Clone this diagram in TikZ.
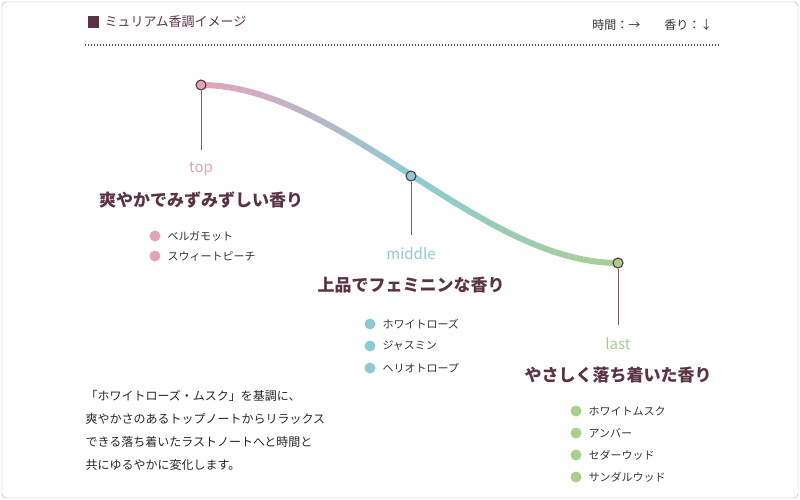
\documentclass[tikz,border=0pt]{standalone}
\usepackage{fontspec}
\newfontfamily\jp{Noto Sans CJK JP}
\usepackage{tikz}
\definecolor{ink}{HTML}{5A3444}
\definecolor{topc}{HTML}{E3A3BA}
\definecolor{midc}{HTML}{8ECAD3}
\definecolor{lastc}{HTML}{A9CF8F}
\tikzset{
  stage/.style={font=\jp\fontsize{15}{15}\selectfont,anchor=center},
  scent/.style={font=\jp\bfseries\fontsize{17}{17}\selectfont,text=ink},
  item/.style={font=\jp\fontsize{11}{11}\selectfont,text=black!80,anchor=west},
  marker/.style={circle,draw=ink,line width=1.1pt,inner sep=0pt,minimum size=10pt}
}
\begin{document}
\begin{tikzpicture}[x=1pt,y=-1pt]
\useasboundingbox (0,0) rectangle (800,500);
\draw[black!35,rounded corners=4pt] (2,2) rectangle (798,498);
\fill[ink] (88,16) rectangle (99,28);
\node[anchor=west,font=\jp\fontsize{13}{13}\selectfont,text=ink] (title) at (101,22) {ミュリアム香調イメージ};
\node[anchor=east,font=\jp\fontsize{12}{12}\selectfont,text=black!80] (legend) at (716,25) {時間：→\qquad 香り：↓};
\draw[black!70,line width=1.2pt,dash pattern=on 1pt off 2pt] (85,45) -- (720,45);
% gradient curve
\foreach \i in {0,...,59}{
  \pgfmathsetmacro\ta{\i/60}
  \pgfmathsetmacro\tb{(\i+1)/60}
  \pgfmathsetmacro\xa{201+417*\ta}
  \pgfmathsetmacro\xb{201+417*\tb}
  \pgfmathsetmacro\ya{85+178*(3*\ta*\ta-2*\ta*\ta*\ta)}
  \pgfmathsetmacro\yb{85+178*(3*\tb*\tb-2*\tb*\tb*\tb)}
  \pgfmathtruncatemacro\mix{\i<30 ? 100-\i*100/30 : 100-(\i-30)*100/30}
  \ifnum\i<30
    \draw[line width=6pt,color=topc!\mix!midc] (\xa,\ya) -- (\xb,\yb);
  \else
    \draw[line width=6pt,color=midc!\mix!lastc] (\xa,\ya) -- (\xb,\yb);
  \fi
}
\foreach \name/\x/\y/\c/\lab/\txt/\drop in {
  top/201/85/topc/top/爽やかでみずみずしい香り/150,
  middle/411/176/midc/middle/上品でフェミニンな香り/235,
  last/618/263/lastc/last/やさしく落ち着いた香り/325}{
  \node[marker,fill=\c] (\name-dot) at (\x,\y) {};
  \coordinate (\name-end) at (\x,\drop);
  \draw[ink!80] (\name-dot) -- (\name-end);
  \node[stage,text=\c] (\name-label) at (\x,\drop+19) {\lab};
  \node[scent] (\name-scent) at (\x,\drop+50) {\txt};
}
\foreach \x/\y/\c/\txt in {
  155/236/topc/ベルガモット, 155/256/topc/スウィートピーチ,
  370/324/midc/ホワイトローズ, 370/346/midc/ジャスミン, 370/368/midc/ヘリオトロープ,
  576/411/lastc/ホワイトムスク, 576/433/lastc/アンバー, 576/455/lastc/セダーウッド, 576/477/lastc/サンダルウッド}{
  \fill[\c] (\x,\y) circle (5.5pt);
  \node[item] at (\x+9,\y) {\txt};
}
\node[anchor=north west,align=left,font=\jp\fontsize{12}{23}\selectfont,text=black!85] (note) at (82,387)
  {「ホワイトローズ・ムスク」を基調に、\\爽やかさのあるトップノートからリラックス\\できる落ち着いたラストノートへと時間と\\共にゆるやかに変化します。};
\end{tikzpicture}
\end{document}
